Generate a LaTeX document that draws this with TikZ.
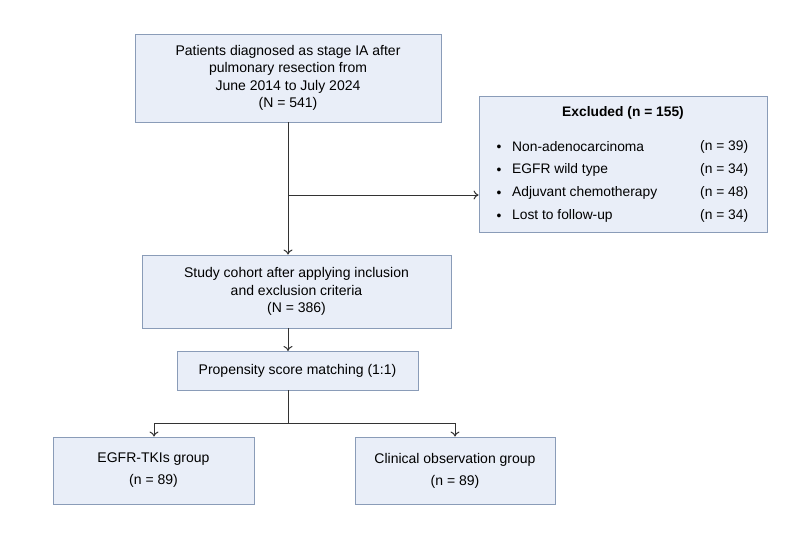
\documentclass[tikz,border=0pt]{standalone}
\usepackage{fontspec}
\setmainfont{Liberation Sans}
\usetikzlibrary{arrows.meta,calc}
\definecolor{boxfill}{HTML}{E9EEF8}
\definecolor{boxline}{HTML}{8A9CB8}
\definecolor{arr}{HTML}{333333}
\begin{document}
\begin{tikzpicture}[x=1pt,y=-1pt,
  box/.style={draw=boxline,fill=boxfill,line width=0.9pt,align=center,inner sep=0pt,
    font=\fontsize{14}{17.5}\selectfont},
  txt/.style={inner sep=0pt,font=\fontsize{13.8}{15}\selectfont},
  conn/.style={draw=arr,line width=1pt,-{To[length=5pt,width=9pt]}},
  plain/.style={draw=arr,line width=1pt}]
\useasboundingbox (0,0) rectangle (800,554);
\fill[white] (0,0) rectangle (800,554);

\node[box,minimum width=306pt,minimum height=88pt] (pat) at (288,78)
  {Patients diagnosed as stage IA after\\pulmonary resection from\\June 2014 to July 2024\\(N = 541)};

\node[box,minimum width=288pt,minimum height=136pt] (exc) at (623,164) {};
\node[txt,font=\fontsize{13.8}{15}\selectfont\bfseries] (exct) at (623,113) {Excluded (n = 155)};
\foreach \i/\t/\n/\y in {1/Non-adenocarcinoma/39/147,2/EGFR wild type/34/170,3/Adjuvant chemotherapy/48/193,4/Lost to follow-up/34/216}{
  \node[txt] (b\i) at (499,\y+1) {•};
  \node[txt,anchor=west] (e\i) at (512,\y) {\t};
  \node[txt,anchor=west] (n\i) at (700,\y) {(n = \n)};
}

\node[box,minimum width=309pt,minimum height=73pt] (study) at (296.5,291.5)
  {Study cohort after applying inclusion\\and exclusion criteria\\(N = 386)};

\node[box,minimum width=241pt,minimum height=39pt] (psm) at (297.5,370.5)
  {Propensity score matching (1:1)};

\node[box,minimum width=201pt,minimum height=67pt,font=\fontsize{14}{22}\selectfont] (egfr) at (153.5,470.5)
  {EGFR-TKIs group\\(n = 89)};
\node[box,minimum width=200pt,minimum height=67pt,font=\fontsize{14}{22}\selectfont] (clin) at (455,470.5)
  {Clinical observation group\\(n = 89)};

\coordinate (br) at (288,195);
\coordinate (psmtop) at (288,351);
\coordinate (studybot) at (288,328);
\coordinate (psmbot) at (288,390);
\coordinate (split) at (288,423);
\coordinate (lft) at (154,423);
\coordinate (rgt) at (455,423);
\draw[conn] (pat.south) -- (pat.south |- study.north);
\draw[conn] (br) -- (br -| exc.west);
\draw[conn] (studybot) -- (psmtop);
\draw[plain] (psmbot) -- (split);
\draw[plain] (lft) -- (rgt);
\draw[conn] (lft) -- (lft |- egfr.north);
\draw[conn] (rgt) -- (rgt |- clin.north);
\end{tikzpicture}
\end{document}
